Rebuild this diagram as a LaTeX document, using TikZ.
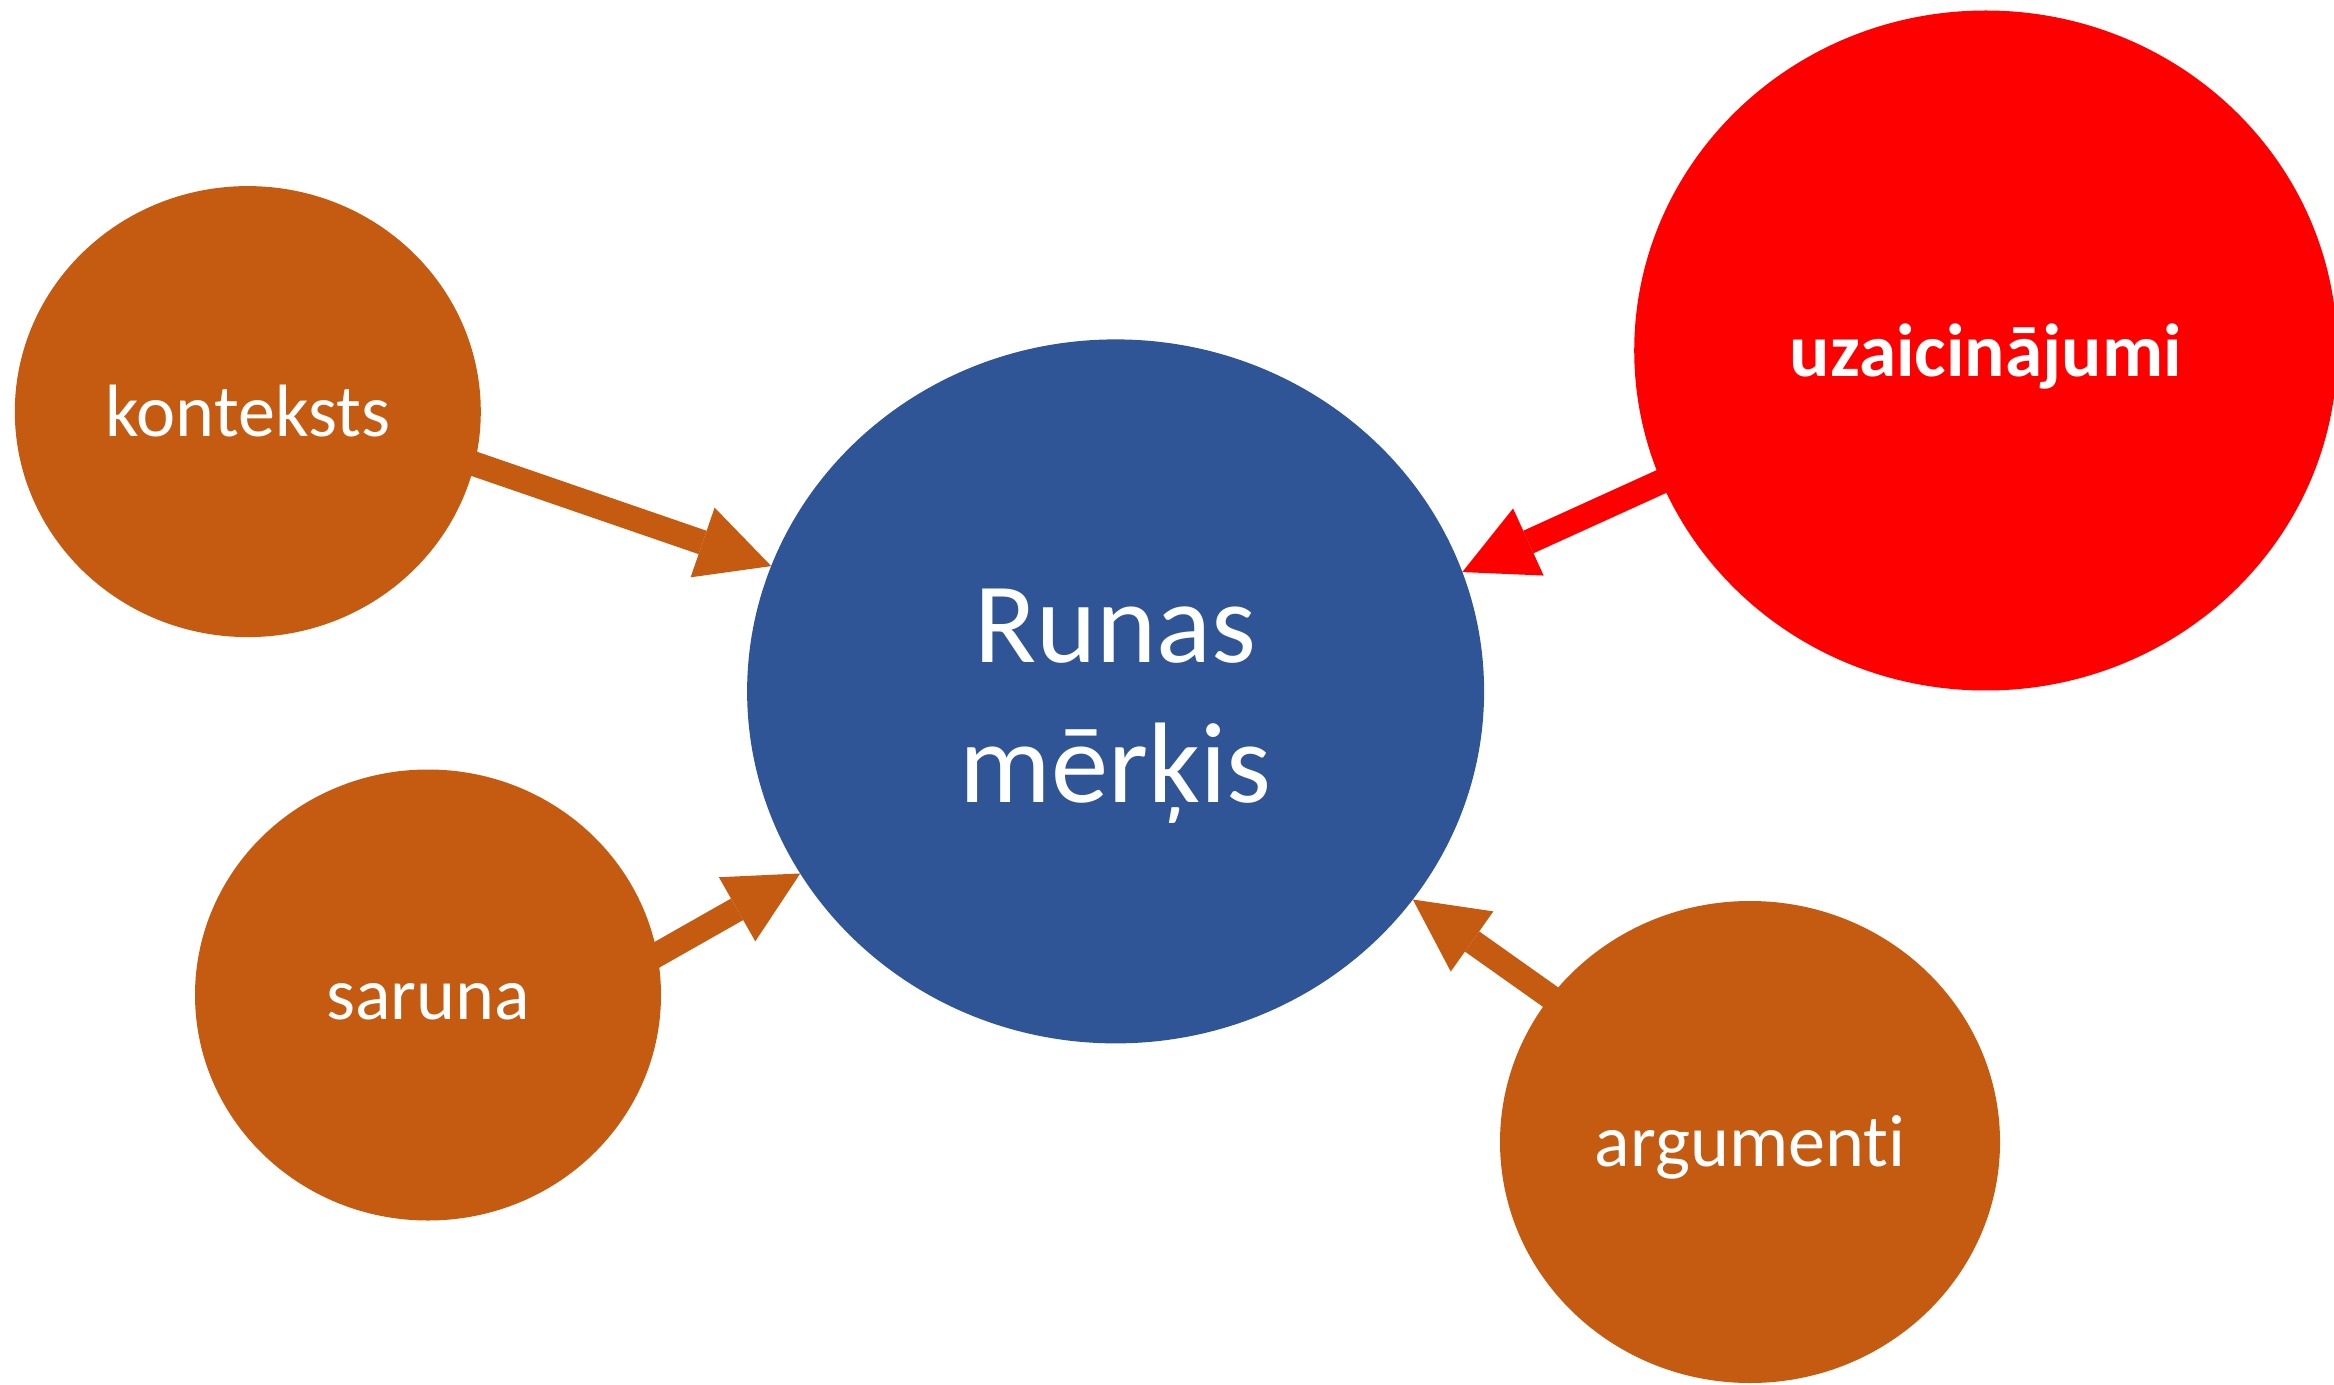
\documentclass[tikz,border=0pt]{standalone}
\usepackage{fontspec}
\setmainfont[Ligatures={NoCommon}]{Carlito}
\usetikzlibrary{arrows.meta,backgrounds,shapes.geometric}
\definecolor{orng}{HTML}{C55A11}
\definecolor{blu}{HTML}{2F5597}
\definecolor{rd}{HTML}{FF0000}
\begin{document}
\begin{tikzpicture}[x=0.1mm,y=-0.1mm,
  bubble/.style={ellipse, inner sep=0pt, outer sep=0pt, text=white, draw=none},
  small/.style={bubble, fill=orng, font=\fontsize{21.1}{25}\selectfont, text height=14.2pt, text depth=0pt},
  link/.style={line width=2.47mm, shorten <=-5mm, -{Triangle[length=7.26mm,width=7.37mm,line width=0pt]}}]
\useasboundingbox (0,0) rectangle (2334,1385);
\node[bubble, fill=blu, minimum width=73.7mm, minimum height=70.4mm, align=center,
      font=\fontsize{32.6}{40}\selectfont] (runas) at (1115.6,691.4) {\rule{0pt}{29.3pt}Runas\\mērķis};
\node[small, minimum width=46.6mm, minimum height=45.1mm] (konteksts) at (247.8,411.6) {konteksts};
\node[small, minimum width=46.6mm, minimum height=45.1mm] (saruna) at (428,995) {saruna};
\node[small, minimum width=50.0mm, minimum height=48.2mm] (argumenti) at (1750,1142) {argumenti};
\node[bubble, fill=rd, minimum width=70.3mm, minimum height=68.0mm,
      font=\bfseries\fontsize{21.4}{25}\selectfont, text height=14.9pt, text depth=0pt] (uzaic) at (1985.7,350.5) {uzaicinājumi};
\begin{scope}[on background layer]
\draw[link, orng] (konteksts.-13.4) -- (runas.160.75);
\draw[link, orng] (saruna.10.3) -- (runas.210.8);
\draw[link, rd] (uzaic.202.75) -- (runas.19.33);
\draw[link, orng] (argumenti.144) -- (runas.-35.8);
\end{scope}
\end{tikzpicture}
\end{document}
